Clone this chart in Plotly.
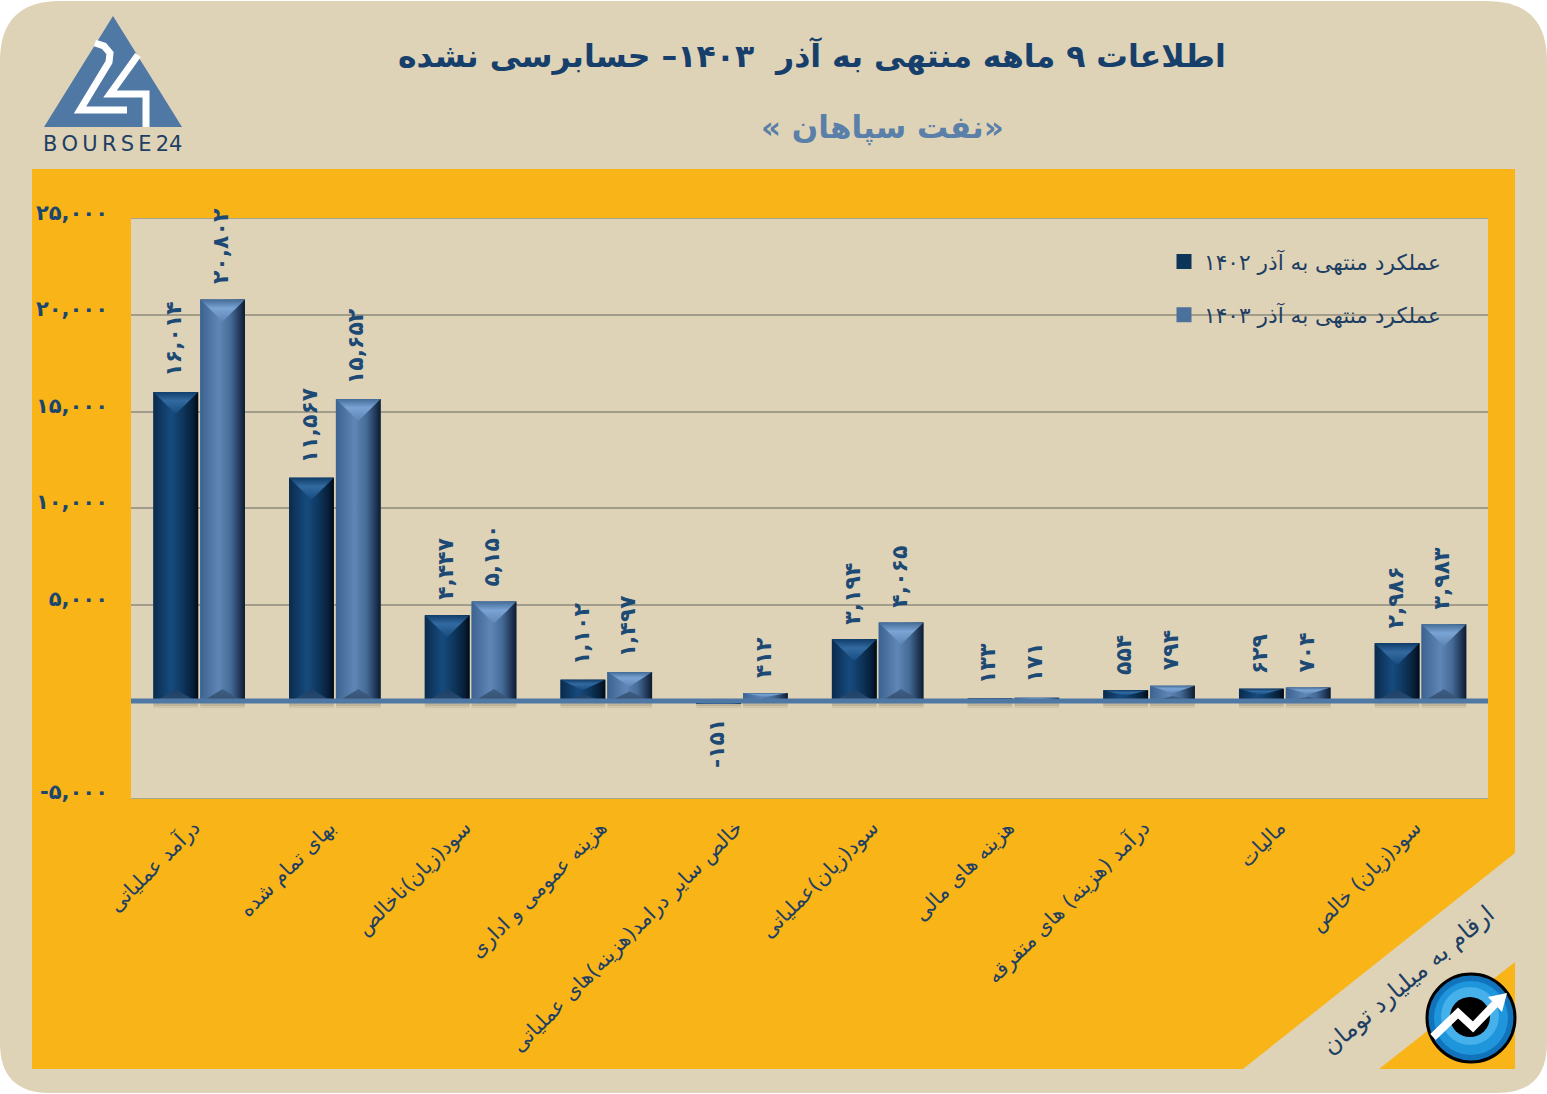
import plotly.graph_objects as go

W, H = 1547, 1094

# labels and values (billion toman)
categories = [
    "درآمد عملیاتی", "بهای تمام شده", "سود(زیان)ناخالص", "هزینه عمومی و اداری",
    "خالص سایر درامد(هزینه)های عملیاتی", "سود(زیان)عملیاتی", "هزینه های مالی",
    "درآمد (هزینه) های متفرقه", "مالیات", "سود(زیان) خالص",
]
values_1402 = [16014, 11567, 4447, 1102, -151, 3194, 133, 554, 629, 2986]
values_1403 = [20802, 15652, 5150, 1497, 412, 4065, 171, 794, 704, 3983]
labels_1402 = ["۱۶,۰۱۴", "۱۱,۵۶۷", "۴,۴۴۷", "۱,۱۰۲", "-۱۵۱", "۳,۱۹۴", "۱۳۳", "۵۵۴", "۶۲۹", "۲,۹۸۶"]
labels_1403 = ["۲۰,۸۰۲", "۱۵,۶۵۲", "۵,۱۵۰", "۱,۴۹۷", "۴۱۲", "۴,۰۶۵", "۱۷۱", "۷۹۴", "۷۰۴", "۳,۹۸۳"]
y_ticks = [-5000, 0, 5000, 10000, 15000, 20000, 25000]
y_tick_labels = ["-۵,۰۰۰", "", "۵,۰۰۰", "۱۰,۰۰۰", "۱۵,۰۰۰", "۲۰,۰۰۰", "۲۵,۰۰۰"]
name_1402 = "عملکرد منتهی به آذر ۱۴۰۲"
name_1403 = "عملکرد منتهی به آذر ۱۴۰۳"

FONT = "DejaVu Sans"
NAVY = "#16406b"
BEIGE = "#dfd3b7"
ORANGE = "#f9b418"
STEEL = "#4f78a5"
GRID = "#a29c8b"

BAR_W = 0.33
UNITS_PER_PX = 30000 / 580
TOP_BEVEL = 22 * UNITS_PER_PX
BOTTOM_BEVEL = 12 * UNITS_PER_PX

# colours of the bevelled bars (vertical gradients run from low y to high y)
STYLE_1402 = {
    "base": "#0d3459",
    "face": [[0, "#0a2b4e"], [0.4, "#164b7e"], [0.68, "#0d3459"], [0.88, "#071f39"], [1, "#020a14"]],
    "top": [[0, "#164b7e"], [0.6, "#326aa0"], [1, "#113e6b"]],
    "bottom": [[0, "#2a4a6e"], [1, "#1c4068"]],
}
STYLE_1403 = {
    "base": "#4b719c",
    "face": [[0, "#3c6390"], [0.42, "#5f86b5"], [0.68, "#456b97"], [0.88, "#22395a"], [1, "#0e1b2d"]],
    "top": [[0, "#5f86b5"], [0.6, "#7aa4d4"], [1, "#456c98"]],
    "bottom": [[0, "#35506f"], [1, "#3f5f86"]],
}


def px_path(points, close=True):
    d = "M" + " L".join(f"{x / W:.5f},{1 - y / H:.5f}" for x, y in points)
    return d + (" Z" if close else "")


def px_rounded(x0, y0, x1, y1, r_top, r_bottom):
    def p(x, y):
        return f"{x / W:.5f},{1 - y / H:.5f}"
    return (
        f"M{p(x0 + r_top, y0)} L{p(x1 - r_top, y0)} Q{p(x1, y0)} {p(x1, y0 + r_top)} "
        f"L{p(x1, y1 - r_bottom)} Q{p(x1, y1)} {p(x1 - r_bottom, y1)} "
        f"L{p(x0 + r_bottom, y1)} Q{p(x0, y1)} {p(x0, y1 - r_bottom)} "
        f"L{p(x0, y0 + r_top)} Q{p(x0, y0)} {p(x0 + r_top, y0)} Z"
    )


def px_shape(path, fill=None, line=None, width=0, layer="below"):
    return dict(
        type="path", path=path, xref="paper", yref="paper", layer=layer,
        fillcolor=fill if fill else "rgba(0,0,0,0)",
        line=dict(color=line if line else "rgba(0,0,0,0)", width=width),
    )


def px_circle(cx, cy, r, fill, line=None, width=0):
    return dict(
        type="circle", xref="paper", yref="paper", layer="above",
        x0=(cx - r) / W, x1=(cx + r) / W, y0=1 - (cy + r) / H, y1=1 - (cy - r) / H,
        fillcolor=fill, line=dict(color=line if line else "rgba(0,0,0,0)", width=width),
    )


def px_note(x, y, text, size, color, bold=False, angle=0):
    return dict(
        x=x / W, y=1 - y / H, xref="paper", yref="paper", text=text, showarrow=False,
        textangle=angle, xanchor="center", yanchor="middle",
        font=dict(family=FONT, size=size, color=color, weight=700 if bold else 400),
    )


fig = go.Figure()
shapes = [
    # card and orange panels
    px_shape(px_rounded(0, 1, W, 1093, 60, 50), BEIGE),
    px_shape(px_path([(32, 169), (1515, 169), (1515, 853), (1243, 1069), (32, 1069)]), ORANGE),
    px_shape(px_path([(1515, 962), (1515, 1069), (1379, 1069)]), ORANGE),
    px_shape(px_path([(131, 218.5), (1488, 218.5), (1488, 798.5), (131, 798.5)]), BEIGE),
    # bourse24 logo
    px_shape(px_path([(113, 16), (44, 127), (182, 127)]), STEEL),
    px_shape(px_path([(95, 43), (104, 46), (110, 53), (109, 62), (80, 110), (127, 110)], close=False),
             None, "white", 7),
    px_shape(px_path([(138, 55), (110, 94), (146, 94), (146, 127)], close=False), None, "white", 7),
]


def add_series(values, name, style, offset, group):
    xs = list(range(len(values)))
    fig.add_trace(go.Bar(
        x=xs, y=values, offset=offset, width=BAR_W, showlegend=False,
        marker=dict(color=style["base"], line=dict(width=0)),
    ))
    # empty bar only for the legend, the outline makes its swatch bigger
    fig.add_trace(go.Bar(
        x=[None], y=[None], name=name, legendgroup=group,
        marker=dict(color=style["base"], line=dict(color=style["base"], width=3)),
    ))
    for x, v in zip(xs, values):
        left = x + offset
        right = left + BAR_W
        mid = left + BAR_W / 2
        sign = 1 if v >= 0 else -1
        top_d = min(TOP_BEVEL, abs(v) / 2) * sign
        bottom_d = min(BOTTOM_BEVEL, abs(v) / 3) * sign
        polys = [
            ([left, right, right, left, left], [0, 0, v, v, 0], "horizontal", style["face"]),
            ([left, right, mid, left], [v, v, v - top_d, v], "vertical", style["top"]),
            ([left + 0.02, right - 0.02, mid, left + 0.02], [0, 0, bottom_d, 0], "vertical", style["bottom"]),
        ]
        for px, py, kind, scale in polys:
            fig.add_trace(go.Scatter(
                x=px, y=py, mode="lines", line=dict(width=0), fill="toself",
                fillgradient=dict(type=kind, colorscale=scale),
                showlegend=False, hoverinfo="skip",
            ))
        # soft shadow under the bar
        for depth, alpha in [(7, 0.09), (5, 0.12)]:
            shapes.append(dict(type="rect", xref="x", yref="y", layer="below",
                               x0=left, x1=right, y0=0, y1=-depth * UNITS_PER_PX,
                               fillcolor=f"rgba(70,60,40,{alpha})", line=dict(width=0)))


add_series(values_1402, name_1402, STYLE_1402, -0.335, "a")
add_series(values_1403, name_1403, STYLE_1403, 0.01, "b")

# baseline sits on top of the bars
shapes.append(dict(type="line", xref="x", yref="y", layer="above", x0=-0.5, x1=9.5, y0=0, y1=0,
                   line=dict(color=STEEL, width=5)))

# round blue logo
shapes += [
    px_circle(1471, 1018, 44, "#1273bd", "black", 3),
    px_circle(1471, 1018, 37, "#1f95dc"),
    px_circle(1470, 1016, 29, "#45b0ea"),
    px_circle(1470, 1017, 20, "black"),
    px_shape(px_path([(1433, 1037), (1458, 1013), (1473, 1027), (1495, 1004)], close=False),
             None, "white", 8, "above"),
    px_shape(px_path([(1488, 997), (1507, 993), (1502, 1012)]), "white", None, 0, "above"),
]

annotations = [
    px_note(812, 55, "\u200fاطلاعات ۹ ماهه منتهی به آذر\u00a0\u00a0۱۴۰۳– حسابرسی نشده\u200f", 31.5, NAVY, True),
    px_note(882, 128, "\u200f«نفت سپاهان »\u200f", 31, "#5a7fa8", True),
    px_note(1408, 980, "ارقام به میلیارد تومان", 24, "#1d3f63", angle=-40),
    px_note(112, 144, "B\u2009O\u2009U\u2009R\u2009S\u2009E\u200924", 21, "#1d3f63"),
]

for values, labels, offset in [(values_1402, labels_1402, -0.335), (values_1403, labels_1403, 0.01)]:
    for x, v, label in zip(range(len(values)), values, labels):
        annotations.append(dict(
            x=x + offset + BAR_W / 2, y=v, xref="x", yref="y", text=label, showarrow=False,
            textangle=-90, xanchor="center", yanchor="bottom" if v >= 0 else "top",
            xshift=-2, yshift=13 if v >= 0 else -13,
            font=dict(family=FONT, size=22, color="#1d4a75", weight=700),
        ))

fig.update_layout(
    width=W, height=H,
    margin=dict(l=0, r=0, t=0, b=0),
    paper_bgcolor="white",
    plot_bgcolor="rgba(0,0,0,0)",
    barmode="overlay",
    shapes=shapes,
    annotations=annotations,
    legend=dict(
        x=1164 / W, y=1 - 241 / H, xanchor="left", yanchor="top",
        bgcolor="rgba(0,0,0,0)", tracegroupgap=22,
        font=dict(family=FONT, size=21.7, color="#1d3f63"),
    ),
    xaxis=dict(
        domain=[131 / W, 1488 / W], range=[-0.5, 9.5], automargin=False,
        tickmode="array", tickvals=list(range(10)), ticktext=categories, tickangle=-45,
        tickfont=dict(family=FONT, size=20.5, color="#1d3f63"),
        showgrid=False, zeroline=False, ticks="", ticklabelstandoff=9, ticklabelshift=-5,
        showline=True, mirror=True, linecolor="#aaa493", linewidth=1,
    ),
    yaxis=dict(
        domain=[1 - 797.5 / H, 1 - 218.5 / H], range=[-5000, 25000], automargin=False,
        tickmode="array", tickvals=y_ticks, ticktext=y_tick_labels,
        tickfont=dict(family=FONT, size=21, color="#1a4670", weight=700),
        gridcolor=GRID, gridwidth=1.5, zeroline=False, ticks="",
        ticklabelstandoff=22, ticklabelshift=-6,
    ),
)

# the page's default body margin would push the card off by 8px
fig.write_html("out.html", config={"displayModeBar": False}, post_script="document.body.style.margin='0';")
